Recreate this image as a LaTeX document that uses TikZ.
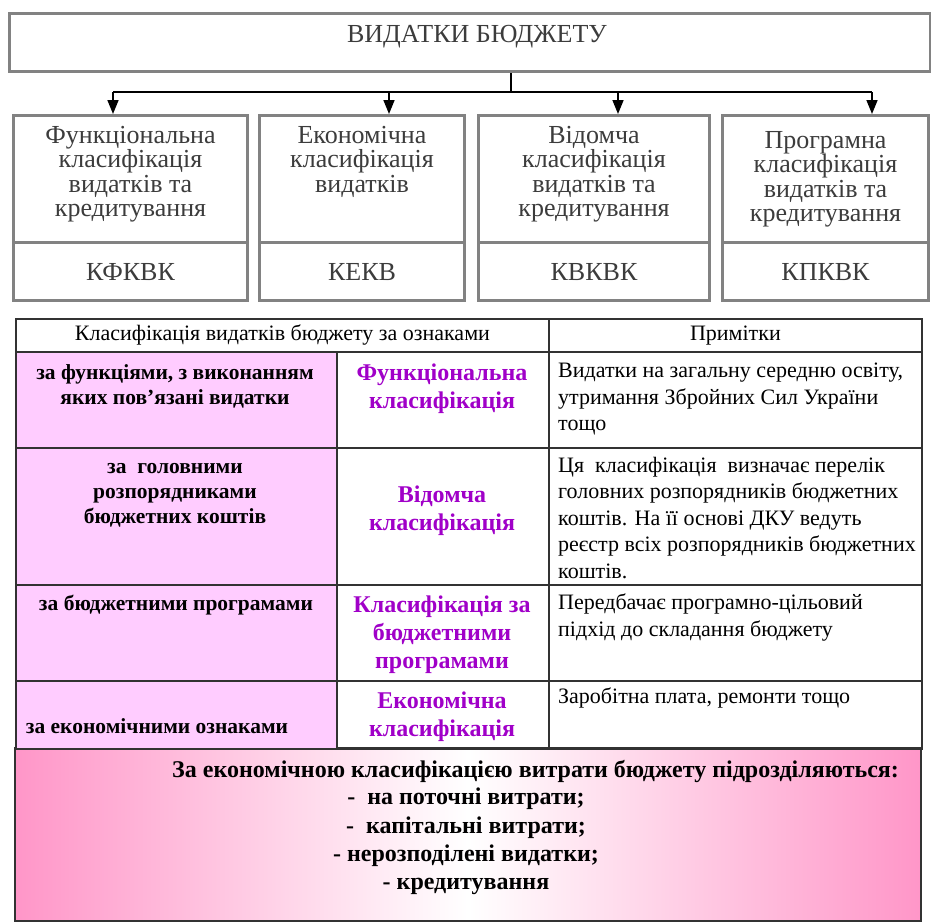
\documentclass[tikz,border=0pt]{standalone}
\usepackage{fontspec}
\setmainfont{Liberation Serif}
\usetikzlibrary{arrows.meta}
\definecolor{boxgray}{RGB}{130,130,130}
\definecolor{pinkcell}{RGB}{255,204,255}
\definecolor{purp}{RGB}{160,0,200}
\definecolor{pinkedge}{RGB}{255,150,200}
\definecolor{tline}{RGB}{50,50,50}
\definecolor{txtgray}{RGB}{60,60,60}
\begin{document}
\begin{tikzpicture}[x=1pt,y=-1pt,
  topbox/.style={draw=boxgray, line width=3pt, inner sep=0pt, anchor=north west, fill=white},
  boxtxt/.style={font=\fontsize{26}{24.5}\selectfont, text=txtgray, align=center, anchor=north, inner sep=0pt},
  codetxt/.style={font=\fontsize{26}{26}\selectfont, text=txtgray, inner sep=0pt},
  arr/.style={line width=1.6pt, -{Triangle[length=14pt,width=11pt]}},
  cell/.style={draw=tline, line width=1.8pt, inner sep=0pt, anchor=north west},
  hdrtxt/.style={font=\fontsize{22}{24}\selectfont, inner sep=0pt},
  lefttxt/.style={font=\bfseries\fontsize{21.5}{25}\selectfont, align=center, inner sep=0pt},
  midtxt/.style={font=\bfseries\fontsize{24}{28}\selectfont, text=purp, align=center, inner sep=0pt},
  notetxt/.style={font=\fontsize{22}{26.5}\selectfont, align=left, anchor=north west, inner sep=0pt},
  bottxt/.style={font=\bfseries\fontsize{24}{28.2}\selectfont, align=center, inner sep=0pt}
]
\useasboundingbox (0,0) rectangle (931,922);

% top box
\node[topbox, minimum width=921pt, minimum height=58pt] (top) at (8,12) {};
\node[codetxt] (toplbl) at (477,37) {ВИДАТКИ БЮДЖЕТУ};

% four boxes
\node[topbox, minimum width=234pt, minimum height=127pt] (b1) at (12,114) {};
\node[topbox, minimum width=234pt, minimum height=58pt] (c1) at (12,241) {};
\node[topbox, minimum width=205pt, minimum height=127pt] (b2) at (258,114) {};
\node[topbox, minimum width=205pt, minimum height=58pt] (c2) at (258,241) {};
\node[topbox, minimum width=231pt, minimum height=127pt] (b3) at (477,114) {};
\node[topbox, minimum width=231pt, minimum height=58pt] (c3) at (477,241) {};
\node[topbox, minimum width=206pt, minimum height=127pt] (b4) at (721,114) {};
\node[topbox, minimum width=206pt, minimum height=58pt] (c4) at (721,241) {};

\node[boxtxt] (t1) at (b1.north) [yshift=-12pt] {Функціональна\\класифікація\\видатків та\\кредитування};
\node[boxtxt] (t2) at (b2.north) [yshift=-12pt] {Економічна\\класифікація\\видатків};
\node[boxtxt] (t3) at (b3.north) [yshift=-12pt] {Відомча\\класифікація\\видатків та\\кредитування};
\node[boxtxt] (t4) at (b4.north) [yshift=-17pt] {Програмна\\класифікація\\видатків та\\кредитування};
\node[codetxt] at ([yshift=-1pt]c1.center) {КФКВК};
\node[codetxt] at ([yshift=-1pt]c2.center) {КЕКВ};
\node[codetxt] at ([yshift=-1pt]c3.center) {КВКВК};
\node[codetxt] at ([yshift=-1pt]c4.center) {КПКВК};

% connectors
\coordinate (j) at (511,92);
\coordinate (a1) at (113,92);
\coordinate (a2) at (389,92);
\coordinate (a3) at (618,92);
\coordinate (a4) at (872,92);
\draw[line width=1.6pt] (top.south -| j) -- (j);
\draw[line width=1.6pt] (a1) -- (a4);
\draw[arr] (a1) -- (b1.north -| a1);
\draw[arr] (a2) -- (b2.north -| a2);
\draw[arr] (a3) -- (b3.north -| a3);
\draw[arr] (a4) -- (b4.north -| a4);

% bottom gradient box
\shade[left color=pinkedge, right color=pinkedge, middle color=white] (15,748) rectangle (921,921);
\draw[tline, line width=1.8pt] (15,748) rectangle (921,921);

% table
\node[cell, minimum width=533pt, minimum height=33pt] (h1) at (15,318) {};
\node[cell, minimum width=373pt, minimum height=33pt] (h2) at (548,318) {};
\node[hdrtxt] at (h1.center) {Класифікація видатків бюджету за ознаками};
\node[hdrtxt] at (h2.center) {Примітки};

\node[cell, fill=pinkcell, minimum width=321pt, minimum height=96pt] (r1a) at (15,351) {};
\node[cell, minimum width=212pt, minimum height=96pt] (r1b) at (336,351) {};
\node[cell, minimum width=373pt, minimum height=96pt] (r1c) at (548,351) {};
\node[cell, fill=pinkcell, minimum width=321pt, minimum height=137pt] (r2a) at (15,447) {};
\node[cell, minimum width=212pt, minimum height=137pt] (r2b) at (336,447) {};
\node[cell, minimum width=373pt, minimum height=137pt] (r2c) at (548,447) {};
\node[cell, fill=pinkcell, minimum width=321pt, minimum height=96pt] (r3a) at (15,584) {};
\node[cell, minimum width=212pt, minimum height=96pt] (r3b) at (336,584) {};
\node[cell, minimum width=373pt, minimum height=96pt] (r3c) at (548,584) {};
\node[cell, fill=pinkcell, minimum width=321pt, minimum height=68pt] (r4a) at (15,680) {};
\node[cell, minimum width=212pt, minimum height=68pt] (r4b) at (336,680) {};
\node[cell, minimum width=373pt, minimum height=68pt] (r4c) at (548,680) {};

% row 1
\node[lefttxt, anchor=north] at (175,364) {за функціями, з виконанням\\яких пов’язані видатки};
\node[midtxt, anchor=north] at (442,364) {Функціональна\\класифікація};
\node[notetxt] at (558,363) {Видатки на загальну середню освіту,\\утримання Збройних Сил України\\тощо};
% row 2
\node[lefttxt, anchor=north] at (175,463) {за\ \ головними\\розпорядниками\\бюджетних коштів};
\node[midtxt, anchor=north] at (442,486) {Відомча\\класифікація};
\node[notetxt] at (558,457) {Ця\ \ класифікація\ \ визначає перелік\\головних розпорядників бюджетних\\коштів. На її основі ДКУ ведуть\\реєстр всіх розпорядників бюджетних\\коштів.};
% row 3
\node[lefttxt, anchor=north] at (176,595) {за бюджетними програмами};
\node[midtxt, anchor=north] at (442,596) {Класифікація за\\бюджетними\\програмами};
\node[notetxt] at (558,594) {Передбачає програмно-цільовий\\підхід до складання бюджету};
% row 4
\node[lefttxt, anchor=north] at (157,718) {за економічними ознаками};
\node[midtxt, anchor=north] at (442,692) {Економічна\\класифікація};
\node[notetxt] at (558,688) {Заробітна плата, ремонти тощо};

% bottom text
\node[bottxt, anchor=west] at (172,771) {За економічною класифікацією витрати бюджету підрозділяються:};
\node[bottxt, anchor=north] at (466,788) {-\ \ на поточні витрати;\\-\ \ капітальні витрати;\\- нерозподілені видатки;\\- кредитування};
\end{tikzpicture}
\end{document}
